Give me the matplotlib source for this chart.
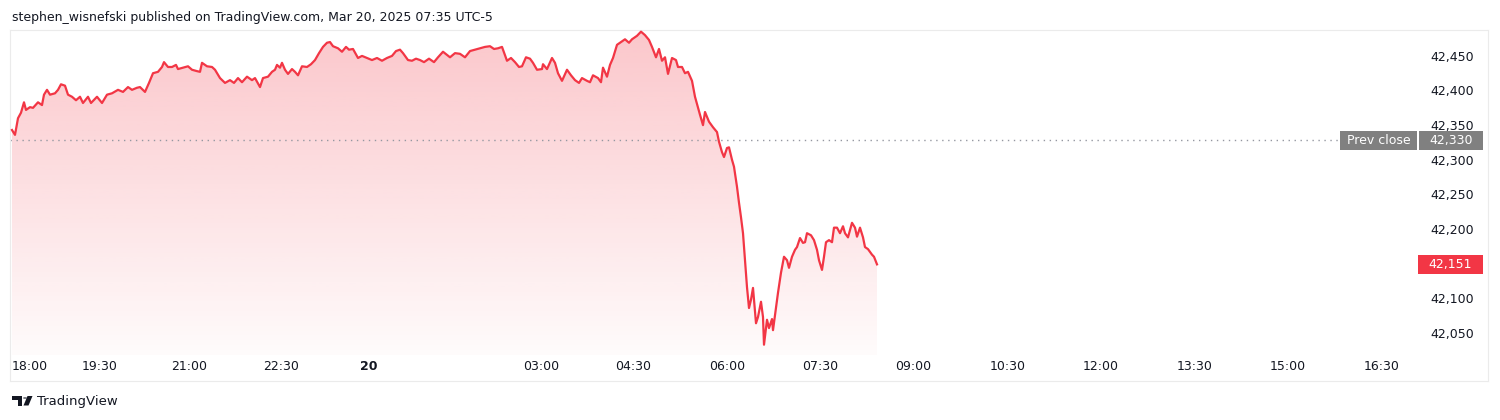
import numpy as np
import matplotlib.pyplot as plt
import matplotlib.colors as mcolors
import matplotlib.transforms as mtransforms
from matplotlib.patches import Rectangle, Polygon, Circle

# 1-min bars since the 18:00 session open (bar index, TradingView style axis)
bar_idx = [0, 3, 6, 9, 12, 14, 18, 21, 26, 30, 32, 35, 38, 43, 46, 49, 53, 56, 60, 64,
           68, 71, 76, 79, 85, 90, 95, 100, 106, 111, 116, 120, 125, 128, 133, 137, 141, 146, 150, 152,
           156, 160, 164, 166, 171, 176, 180, 185, 188, 190, 195, 200, 203, 208, 213, 218, 222, 226, 230, 235,
           240, 243, 248, 251, 256, 260, 263, 265, 268, 270, 273, 276, 280, 283, 286, 290, 295, 299, 303, 307,
           311, 315, 318, 321, 326, 330, 334, 337, 341, 346, 350, 355, 360, 365, 370, 375, 380, 384, 388, 391,
           396, 400, 404, 408, 412, 417, 422, 426, 431, 438, 443, 448, 453, 458, 463, 468, 473, 478, 482, 486,
           490, 495, 499, 503, 507, 510, 514, 518, 521, 525, 530, 531, 535, 540, 543, 546, 550, 555, 559, 563,
           567, 570, 575, 578, 581, 586, 589, 591, 595, 598, 601, 605, 609, 613, 617, 620, 625, 629, 633, 637,
           640, 644, 647, 650, 653, 656, 660, 664, 666, 670, 673, 676, 680, 683, 688, 691, 693, 697, 701, 705,
           707, 710, 712, 715, 717, 720, 722, 725, 727, 729, 731, 733, 735, 737, 739, 741, 744, 746, 749, 751,
           752, 755, 757, 760, 761, 764, 766, 769, 772, 775, 777, 780, 783, 785, 788, 791, 793, 795, 799, 802,
           805, 807, 810, 812, 814, 817, 820, 822, 825, 828, 831, 833, 836, 840, 843, 845, 848, 851, 853, 856,
           860, 862, 865]
price = [42345, 42338, 42362, 42370, 42385, 42374, 42378, 42377, 42385, 42381, 42396, 42403, 42396, 42398, 42403, 42411, 42409, 42396, 42393, 42388,
         42393, 42384, 42393, 42384, 42393, 42384, 42396, 42398, 42403, 42400, 42407, 42403, 42406, 42407, 42400, 42413, 42427, 42429, 42436, 42443,
         42436, 42436, 42439, 42433, 42435, 42437, 42432, 42430, 42429, 42442, 42437, 42436, 42432, 42420, 42413, 42417, 42413, 42420, 42414, 42422,
         42417, 42420, 42407, 42420, 42422, 42429, 42432, 42439, 42435, 42442, 42432, 42426, 42433, 42429, 42424, 42437, 42436, 42440, 42446, 42456,
         42465, 42471, 42472, 42466, 42463, 42458, 42465, 42461, 42462, 42449, 42452, 42449, 42446, 42449, 42445, 42449, 42452, 42459, 42461, 42456,
         42446, 42445, 42448, 42446, 42443, 42448, 42443, 42450, 42458, 42450, 42456, 42455, 42450, 42459, 42461, 42463, 42465, 42466, 42462, 42463,
         42465, 42445, 42449, 42443, 42436, 42437, 42450, 42448, 42442, 42432, 42433, 42440, 42433, 42449, 42442, 42427, 42416, 42432, 42424, 42417,
         42413, 42420, 42416, 42414, 42424, 42420, 42414, 42435, 42422, 42439, 42449, 42468, 42472, 42476, 42471, 42476, 42481, 42487, 42482, 42475,
         42465, 42450, 42462, 42445, 42450, 42426, 42449, 42446, 42436, 42436, 42427, 42429, 42416, 42393, 42367, 42352, 42371, 42357, 42349, 42342,
         42328, 42313, 42306, 42319, 42320, 42302, 42292, 42263, 42240, 42219, 42196, 42157, 42118, 42088, 42100, 42117, 42066, 42075, 42097, 42075,
         42035, 42071, 42059, 42072, 42056, 42089, 42110, 42139, 42162, 42157, 42146, 42162, 42172, 42176, 42189, 42182, 42183, 42196, 42193, 42186,
         42172, 42157, 42143, 42162, 42183, 42186, 42183, 42204, 42204, 42196, 42206, 42196, 42190, 42211, 42204, 42191, 42204, 42190, 42176, 42173,
         42165, 42162, 42151]

prev_close = 42330
last_price = 42151
price_ticks = [42050, 42100, 42200, 42250, 42300, 42350, 42400, 42450]
time_labels = ["18:00", "19:30", "21:00", "22:30", "20", "03:00", "04:30", "06:00",
               "07:30", "09:00", "10:30", "12:00", "13:30", "15:00", "16:30"]
time_pos = [17.5, 87.5, 177.5, 269, 357, 529, 621, 715, 808, 901, 996, 1089, 1183, 1276, 1370]

line_color = '#f23645'
text_color = '#131722'

fig = plt.figure(figsize=(15, 4.2), dpi=100)
ax = fig.add_axes([10/1500, 39/420, 1478/1500, 351/420])

x = np.array(bar_idx, dtype=float)
y = np.array(price, dtype=float)
base = 42020  # bottom of the price pane

# gradient area under the line
poly = Polygon(np.column_stack([np.r_[x[0], x, x[-1]], np.r_[base, y, base]]),
               closed=True, facecolor='none', edgecolor='none')
ax.add_patch(poly)
grad = np.zeros((256, 1, 4))
grad[:, :, :3] = mcolors.to_rgb(line_color)
grad[:, 0, 3] = np.linspace(0.28, 0.02, 256)
im = ax.imshow(grad, extent=[x[0], x[-1], base, y.max()], aspect='auto',
               origin='upper', zorder=1, interpolation='bilinear')
im.set_clip_path(poly)

ax.plot(x, y, color=line_color, lw=1.6, zorder=3, solid_joinstyle='round')

ax.set_xlim(-2, 1476)
ax.set_ylim(41982.6, 42489.4)
ax.set_xticks([])
ax.set_yticks([])
for s in ax.spines.values():
    s.set_color('#ebebeb')
    s.set_linewidth(0.8)

# previous close dotted line
ax.hlines(prev_close, -2, 1328, colors='#9598a1', linestyles=(0, (1, 3.3)), lw=1, zorder=2)

# price scale labels
tb = mtransforms.blended_transform_factory(ax.transAxes, ax.transData)
for v in price_ticks:
    ax.text(0.9905, v, f"{v:,}", transform=tb, ha='right', va='center',
            fontsize=9, color=text_color, zorder=4)

box_h = 27.4
ax.add_patch(Rectangle((0.8999, prev_close - box_h/2), 0.0521, box_h, transform=tb,
                       facecolor='#808080', edgecolor='none', zorder=5))
ax.text(0.8999 + 0.0521/2, prev_close, "Prev close", transform=tb, ha='center', va='center',
        fontsize=9, color='white', zorder=6)
ax.add_patch(Rectangle((0.9533, prev_close - box_h/2), 0.0433, box_h, transform=tb,
                       facecolor='#808080', edgecolor='none', zorder=5))
ax.text(0.9533 + 0.0433/2, prev_close, f"{prev_close:,}", transform=tb, ha='center', va='center',
        fontsize=9, color='white', zorder=6)
ax.add_patch(Rectangle((0.9526, last_price - box_h/2), 0.044, box_h, transform=tb,
                       facecolor=line_color, edgecolor='none', zorder=5))
ax.text(0.9526 + 0.044/2, last_price, f"{last_price:,}", transform=tb, ha='center', va='center',
        fontsize=9, color='white', zorder=6)

# time scale labels
tt = mtransforms.blended_transform_factory(ax.transData, ax.transAxes)
for lab, pos in zip(time_labels, time_pos):
    ax.text(pos, 0.04, lab, transform=tt, ha='center', va='center', fontsize=9,
            color=text_color, fontweight='bold' if lab == "20" else 'normal')

# header
fig.text(12/1500, 1 - 17/420,
         "stephen_wisnefski published on TradingView.com, Mar 20, 2025 07:35 UTC-5",
         ha='left', va='center', fontsize=9, color=text_color)

# TradingView logo + name
def px(xp, yp):
    return (xp/1500, 1 - yp/420)

fig.patches.append(Polygon([px(12, 396), px(22, 396), px(22, 405.5), px(17.5, 405.5),
                            px(17.5, 400), px(12, 400)], closed=True,
                           transform=fig.transFigure, facecolor=text_color, edgecolor='none'))
fig.patches.append(Circle(px(25, 398), 2/1500, transform=fig.transFigure,
                          facecolor=text_color, edgecolor='none'))
fig.patches.append(Polygon([px(27.5, 396), px(32.5, 396), px(28.5, 405.5), px(23.5, 405.5)],
                           closed=True, transform=fig.transFigure,
                           facecolor=text_color, edgecolor='none'))
fig.text(37/1500, 1 - 401/420, "TradingView", ha='left', va='center',
         fontsize=9.5, color=text_color)

fig.savefig('out.png', dpi=100)
